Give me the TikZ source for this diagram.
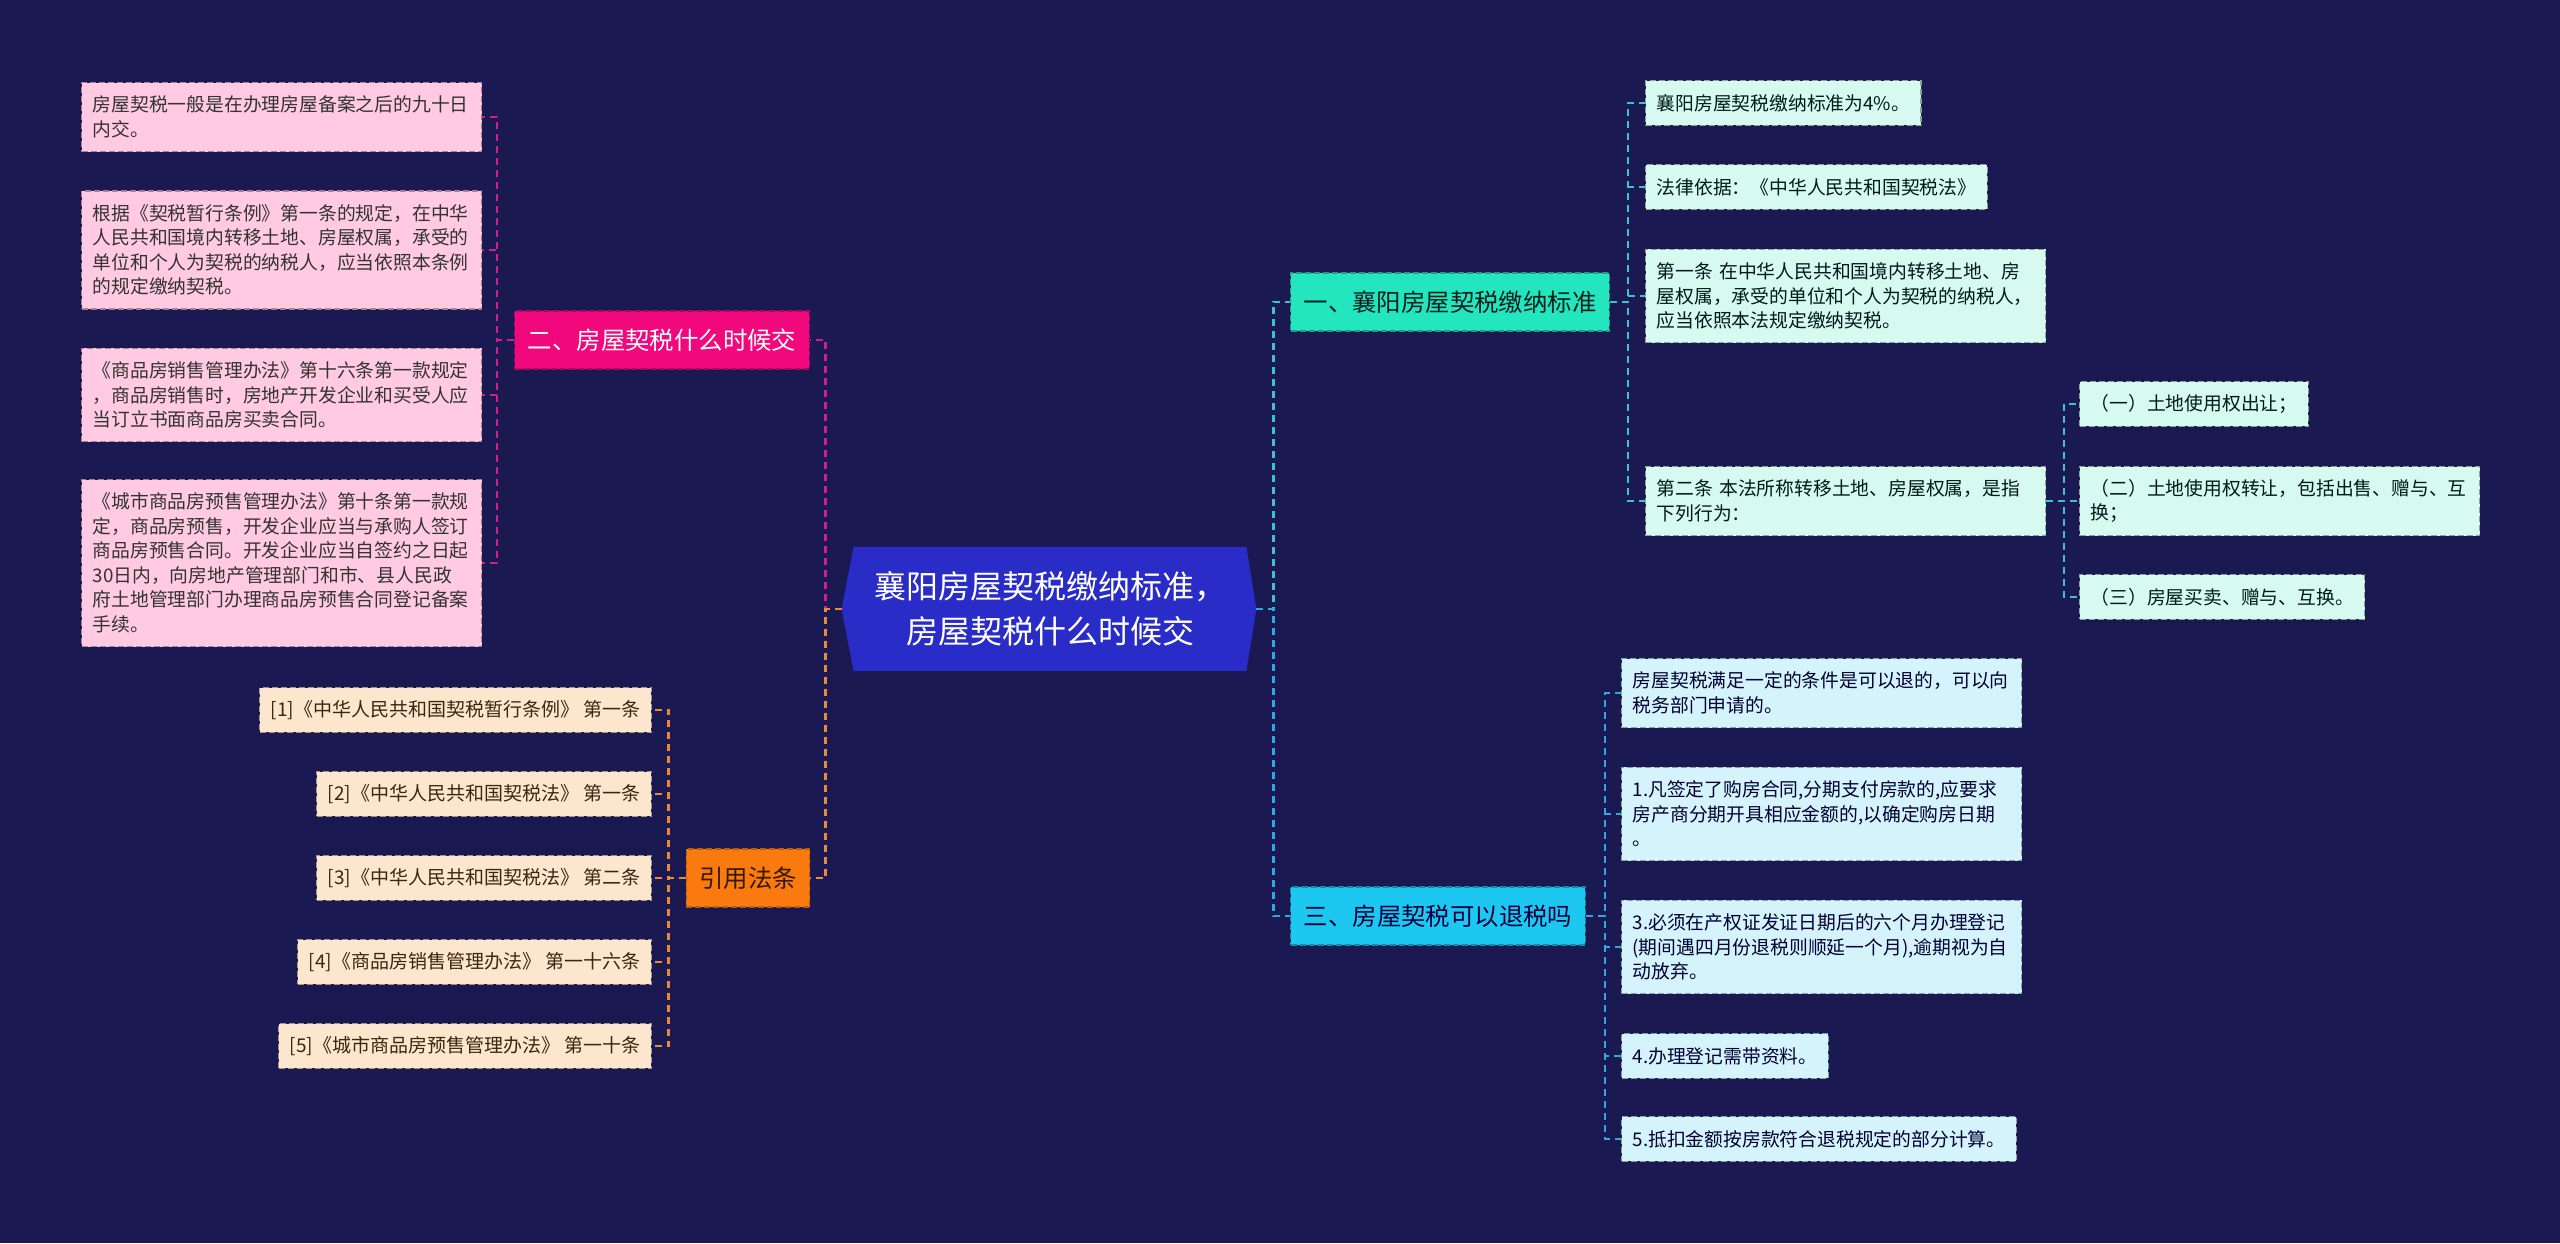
\documentclass[tikz,border=0pt]{standalone}
\usepackage{fontspec}
\setmainfont{Noto Sans CJK SC}
\usepackage{xcolor}
\usetikzlibrary{positioning, calc, backgrounds}

\definecolor{bgnavy}{RGB}{27,25,82}
\definecolor{rootblue}{RGB}{42,44,200}
\definecolor{rosefill}{RGB}{240,8,124}
\definecolor{roseleaf}{RGB}{255,202,226}
\definecolor{roseline}{RGB}{214,30,130}
\definecolor{orangefill}{RGB}{250,122,16}
\definecolor{orangeleaf}{RGB}{253,230,206}
\definecolor{orangeline}{RGB}{240,136,58}
\definecolor{tealfill}{RGB}{36,230,190}
\definecolor{tealleaf}{RGB}{214,250,239}
\definecolor{tealline}{RGB}{60,196,204}
\definecolor{bluefill}{RGB}{28,200,240}
\definecolor{blueleaf}{RGB}{212,243,251}
\definecolor{blueline}{RGB}{44,168,226}

\newcommand{\leaffont}{\fontsize{9.4}{12.25}\selectfont}
\newcommand{\lawfont}{\fontsize{9.5}{12.25}\selectfont}
\newcommand{\branchfont}{\fontsize{12.2}{14}\selectfont}
\newcommand{\rootfont}{\fontsize{16}{22.5}\selectfont}

\begin{document}
\begin{tikzpicture}[
    x=0.5pt, y=-0.5pt,
    link/.style={line width=1.2pt, dash pattern=on 3.5pt off 2.5pt},
    rootnode/.style={rectangle, minimum width=196pt, minimum height=61.5pt, inner sep=0pt, align=center, text=white, font=\rootfont},
    branch/.style={rectangle, line width=0.6pt, dash pattern=on 3pt off 1.5pt, inner xsep=6.5pt, inner ysep=0pt, minimum height=29pt, font=\branchfont},
    leafbox/.style={rectangle, fill=#1, draw=#1!65!black, line width=0.6pt, dash pattern=on 3pt off 1.5pt, inner xsep=5.5pt, inner ysep=2pt, align=left, font=\leaffont},
    rows/.style={minimum height={10pt+12.25pt*#1}},
    wide/.style={text width=189pt}
]

% Root
\node[rootnode] (root) at (1050,609) {襄阳房屋契税缴纳标准，\\房屋契税什么时候交};
\coordinate (rootL) at ([xshift=-6pt]root.west);
\coordinate (rootR) at ([xshift=5pt]root.east);

% Branches
\node[branch, fill=rosefill, draw=rosefill!75!black, text=white] (when) at (662,340) {二、房屋契税什么时候交};
\node[branch, fill=orangefill, draw=orangefill!75!black, text=black!80!orange] (cite) at (748,878) {引用法条};
\node[branch, fill=tealfill, draw=tealfill!70!black, text=black!75!teal] (std) at (1450,302) {一、襄阳房屋契税缴纳标准};
\node[branch, fill=bluefill, draw=bluefill!70!black, text=black!75!blue] (refund) at (1438,916) {三、房屋契税可以退税吗};

% When to pay
\node[leafbox=roseleaf, wide, rows=2, anchor=west, text=black!80] (when1) at (81,117) {房屋契税一般是在办理房屋备案之后的九十日\\内交。};
\node[leafbox=roseleaf, wide, rows=4, anchor=west, text=black!80] (when2) at (81,250) {根据《契税暂行条例》第一条的规定，在中华\\人民共和国境内转移土地、房屋权属，承受的\\单位和个人为契税的纳税人，应当依照本条例\\的规定缴纳契税。};
\node[leafbox=roseleaf, wide, rows=3, anchor=west, text=black!80] (when3) at (81,395) {《商品房销售管理办法》第十六条第一款规定\\，商品房销售时，房地产开发企业和买受人应\\当订立书面商品房买卖合同。};
\node[leafbox=roseleaf, wide, rows=6, anchor=west, text=black!80] (when4) at (81,563) {《城市商品房预售管理办法》第十条第一款规\\定，商品房预售，开发企业应当与承购人签订\\商品房预售合同。开发企业应当自签约之日起\\30日内，向房地产管理部门和市、县人民政\\府土地管理部门办理商品房预售合同登记备案\\手续。};

% Cited laws
\node[leafbox=orangeleaf, rows=1, anchor=east, font=\lawfont, text=black!70!brown] (law1) at (652,710) {[1]《中华人民共和国契税暂行条例》 第一条};
\node[leafbox=orangeleaf, rows=1, anchor=east, font=\lawfont, text=black!70!brown] (law2) at (652,794) {[2]《中华人民共和国契税法》 第一条};
\node[leafbox=orangeleaf, rows=1, anchor=east, font=\lawfont, text=black!70!brown] (law3) at (652,878) {[3]《中华人民共和国契税法》 第二条};
\node[leafbox=orangeleaf, rows=1, anchor=east, font=\lawfont, text=black!70!brown] (law4) at (652,962) {[4]《商品房销售管理办法》 第一十六条};
\node[leafbox=orangeleaf, rows=1, anchor=east, font=\lawfont, text=black!70!brown] (law5) at (652,1046) {[5]《城市商品房预售管理办法》 第一十条};

% Standard
\node[leafbox=tealleaf, rows=1, anchor=west, text=black!80!teal] (std1) at (1645,103) {襄阳房屋契税缴纳标准为4\%。};
\node[leafbox=tealleaf, rows=1, anchor=west, text=black!80!teal] (std2) at (1645,187) {法律依据：《中华人民共和国契税法》};
\node[leafbox=tealleaf, wide, rows=3, anchor=west, text=black!80!teal] (std3) at (1645,296) {第一条 在中华人民共和国境内转移土地、房\\屋权属，承受的单位和个人为契税的纳税人，\\应当依照本法规定缴纳契税。};
\node[leafbox=tealleaf, wide, rows=2, anchor=west, text=black!80!teal] (std4) at (1645,501) {第二条 本法所称转移土地、房屋权属，是指\\下列行为：};
\node[leafbox=tealleaf, rows=1, anchor=west, text=black!80!teal] (act1) at (2079,404) {（一）土地使用权出让；};
\node[leafbox=tealleaf, wide, rows=2, anchor=west, text=black!80!teal] (act2) at (2079,501) {（二）土地使用权转让，包括出售、赠与、互\\换；};
\node[leafbox=tealleaf, rows=1, anchor=west, text=black!80!teal] (act3) at (2079,597) {（三）房屋买卖、赠与、互换。};

% Refund
\node[leafbox=blueleaf, wide, rows=2, anchor=west, text=black!80!blue] (ref1) at (1621,693) {房屋契税满足一定的条件是可以退的，可以向\\税务部门申请的。};
\node[leafbox=blueleaf, wide, rows=3, anchor=west, text=black!80!blue] (ref2) at (1621,814) {1.凡签定了购房合同,分期支付房款的,应要求\\房产商分期开具相应金额的,以确定购房日期\\。};
\node[leafbox=blueleaf, wide, rows=3, anchor=west, text=black!80!blue] (ref3) at (1621,947) {3.必须在产权证发证日期后的六个月办理登记\\(期间遇四月份退税则顺延一个月),逾期视为自\\动放弃。};
\node[leafbox=blueleaf, rows=1, anchor=west, text=black!80!blue] (ref4) at (1621,1056) {4.办理登记需带资料。};
\node[leafbox=blueleaf, rows=1, anchor=west, text=black!80!blue] (ref5) at (1621,1139) {5.抵扣金额按房款符合退税规定的部分计算。};

% Background and root shape
\begin{scope}[on background layer]
  \fill[bgnavy] (0,0) rectangle (2560,1243);
  \fill[rootblue] (root.north west) -- (root.north east) -- (rootR) -- (root.south east) -- (root.south west) -- (rootL) -- cycle;
\end{scope}

% Connections
\draw[link, roseline] (rootL) -- ++(-16,0) |- (when.east);
\draw[link, orangeline] (rootL) -- ++(-16,0) |- (cite.east);
\draw[link, tealline] (rootR) -- ++(17,0) |- (std.west);
\draw[link, blueline] (rootR) -- ++(17,0) |- (refund.west);
\foreach \n in {1,...,4}
  \draw[link, roseline] (when.west) -- ++(-17,0) |- (when\n.east);
\foreach \n in {1,...,5}
  \draw[link, orangeline] (cite.west) -- ++(-17,0) |- (law\n.east);
\foreach \n in {1,...,4}
  \draw[link, tealline] (std.east) -- ++(18,0) |- (std\n.west);
\foreach \n in {1,2,3}
  \draw[link, tealline] (std4.east) -- ++(18,0) |- (act\n.west);
\foreach \n in {1,...,5}
  \draw[link, blueline] (refund.east) -- ++(19,0) |- (ref\n.west);

\end{tikzpicture}
\end{document}
